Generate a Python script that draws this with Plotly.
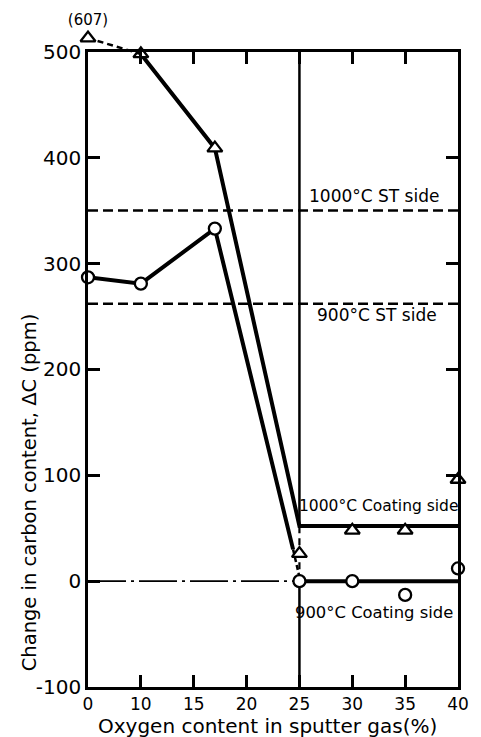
import numpy as np
import plotly.graph_objects as go

# ---------------- data ----------------
o2_ticks = [0, 10, 15, 20, 25, 30, 35, 40]          # broken (non-linear) x scale
y_ticks = [-100, 0, 100, 200, 300, 400, 500]

# 1000C coating side (triangles)
tri_x = [10, 17, 25, 30, 35, 40]
tri_y = [498, 409, 26, 48, 48, 96]
tri_off_x = [0]            # off-scale point (607 ppm) drawn just above the frame
tri_off_y = [513]
tri_off_label = "(607)"

# 900C coating side (circles)
circ_x = [0, 10, 17, 25, 30, 35, 40]
circ_y = [287, 281, 333, 0, 0, -13, 12]

# fitted / guide lines
fit1000_x = [10, 17, 25, 40]
fit1000_y = [498, 409, 52, 52]
fit1000_dash_x = [0, 10]
fit1000_dash_y = [513, 498]

fit900_x = [0, 10, 17, 24.4]
fit900_y = [287, 281, 333, 30]
fit900_drop_x = [24.4, 25]
fit900_drop_y = [30, 4]
fit900_flat_x = [25, 40]
fit900_flat_y = [0, 0]

zero_ref_x = [0, 25]
zero_ref_y = [0, 0]

st1000_level = 350
st900_level = 262
divider_x = 25
divider_break = [0, 52]

labels = [
    ("1000\u00b0C ST side", 32.1, 364, 17),
    ("900\u00b0C ST side", 32.3, 251, 17),
    ("1000\u00b0C Coating side", 32.5, 71, 15.5),
    ("900\u00b0C Coating side", 32.1, -30, 16.4),
]

# ---------------- helpers ----------------
tick_idx = list(range(len(o2_ticks)))


def pos(v):
    return [float(p) for p in np.interp(np.atleast_1d(v), o2_ticks, tick_idx)]


FONT = "DejaVu Sans"
BLACK = "black"

W, H = 481, 737
ML, MR, MT, MB = 88, 16, 20, 50
plot_h = H - MT - MB
plot_w = W - ML - MR
frame_top_px = 48
dom_top = (H - MB - frame_top_px) / plot_h
y_lo, y_hi = -100, 500
y2_hi = y_lo + (y_hi - y_lo) / dom_top

fig = go.Figure()


def line(x, y, width=4, dash="solid", yaxis="y", color=BLACK):
    fig.add_trace(go.Scatter(x=pos(x), y=y, mode="lines", yaxis=yaxis,
                             line=dict(color=color, width=width, dash=dash),
                             hoverinfo="skip", showlegend=False))


# reference lines
line([o2_ticks[0], o2_ticks[-1]], [st1000_level] * 2, width=2.5, dash="10px,5px")
line([o2_ticks[0], o2_ticks[-1]], [st900_level] * 2, width=2.5, dash="10px,5px")
line(zero_ref_x, zero_ref_y, width=1.8, dash="38px,5px,3px,5px")

# divider at 25 %
line([divider_x, divider_x], [divider_break[1], y_hi], width=2.5)
line([divider_x, divider_x], divider_break, width=2.2, dash="7px,5px")
line([divider_x, divider_x], [y_lo, divider_break[0]], width=2.5)

# fitted lines
line(fit1000_x, fit1000_y, width=4)
line(fit1000_dash_x, fit1000_dash_y, width=2.5, dash="6px,4px", yaxis="y2")
line(fit900_x, fit900_y, width=4)
line(fit900_drop_x, fit900_drop_y, width=2.5, dash="5px,3px")
line(fit900_flat_x, fit900_flat_y, width=4)

# markers
fig.add_trace(go.Scatter(x=pos(circ_x), y=circ_y, mode="markers",
                         marker=dict(symbol="circle", size=12, color="white",
                                     line=dict(color=BLACK, width=2.3)),
                         cliponaxis=False, showlegend=False))
fig.add_trace(go.Scatter(x=pos(tri_x), y=tri_y, mode="markers",
                         marker=dict(symbol="triangle-up", size=13, color="white",
                                     line=dict(color=BLACK, width=2.3)),
                         cliponaxis=False, showlegend=False))
fig.add_trace(go.Scatter(x=pos(tri_off_x), y=tri_off_y, mode="markers+text",
                         yaxis="y2", text=[tri_off_label], textposition="top center",
                         textfont=dict(family=FONT, size=15, color=BLACK),
                         marker=dict(symbol="triangle-up", size=13, color="white",
                                     line=dict(color=BLACK, width=2.3)),
                         cliponaxis=False, showlegend=False))

annotations = []
for txt, xv, yv, fs in labels:
    annotations.append(dict(x=pos(xv)[0], y=yv, xref="x", yref="y", text=txt,
                            xanchor="center", yanchor="middle",
                            showarrow=False, font=dict(family=FONT, size=fs, color=BLACK)))

# axis titles
annotations.append(dict(x=(271 - ML) / plot_w, y=-(726 - (H - MB)) / plot_h,
                        xref="paper", yref="paper", xanchor="center", yanchor="middle",
                        text="Oxygen content in sputter gas(%)", showarrow=False,
                        font=dict(family=FONT, size=20, color=BLACK)))
annotations.append(dict(x=-(ML - 28) / plot_w, y=(H - MB - 491) / plot_h,
                        xref="paper", yref="paper", textangle=-90,
                        xanchor="center", yanchor="middle",
                        text="Change in carbon content, \u0394C (ppm)", showarrow=False,
                        font=dict(family=FONT, size=19.5, color=BLACK)))

fig.update_layout(
    width=W, height=H,
    margin=dict(l=ML, r=MR, t=MT, b=MB),
    paper_bgcolor="white", plot_bgcolor="rgba(0,0,0,0)",
    showlegend=False,
    annotations=annotations,
    xaxis=dict(range=[0, len(o2_ticks) - 1], tickvals=tick_idx,
               ticktext=[str(t) for t in o2_ticks], anchor="y",
               showgrid=False, zeroline=False, showline=True, linecolor=BLACK,
               linewidth=2.5, mirror="ticks", ticks="inside", ticklen=12,
               tickwidth=2.5, tickcolor=BLACK,
               tickfont=dict(family=FONT, size=17, color=BLACK)),
    yaxis=dict(range=[y_lo, y_hi], domain=[0, dom_top], tickvals=y_ticks,
               ticktext=[str(t) for t in y_ticks],
               showgrid=False, zeroline=False, showline=True, linecolor=BLACK,
               linewidth=2.5, mirror="ticks", ticks="inside", ticklen=12,
               tickwidth=2.5, tickcolor=BLACK, anchor="x",
               tickfont=dict(family=FONT, size=20, color=BLACK)),
    yaxis2=dict(range=[y_lo, y2_hi], domain=[0, 1], anchor="x", visible=False,
                showgrid=False, zeroline=False),
)

fig.write_html("out.html")
